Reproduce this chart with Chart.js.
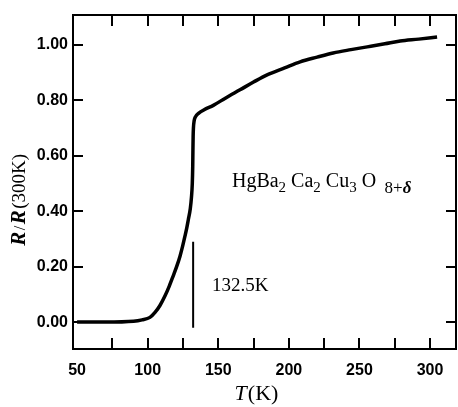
<!DOCTYPE html>
<html>
<head>
<meta charset="utf-8">
<script src="https://cdn.jsdelivr.net/npm/chart.js@4.4.1/dist/chart.umd.min.js"></script>
<style>
    html, body { margin: 0; padding: 0; background: #fff; }
</style>
</head>
<body>
<canvas id="rtChart" width="458" height="407"></canvas>
<script>
// R/R(300K) against T
const temps = [50, 70, 90, 96, 101.6, 105.2, 108.7, 112.3, 115.3, 118.1, 120.5, 122.9, 124.8, 126.4, 127.7, 128.8, 130.2, 131.0, 131.6, 131.9, 132.05, 132.2, 132.4, 132.9, 134.0, 136.0, 140, 146.5, 155, 165.4, 175, 184.6, 197, 208, 220, 231.4, 244, 255.5, 268, 278.9, 292, 305];
const ratio = [0.000, 0.000, 0.003, 0.008, 0.017, 0.035, 0.060, 0.095, 0.130, 0.167, 0.200, 0.238, 0.275, 0.310, 0.340, 0.370, 0.410, 0.450, 0.500, 0.560, 0.620, 0.670, 0.700, 0.726, 0.742, 0.753, 0.766, 0.782, 0.808, 0.838, 0.866, 0.892, 0.917, 0.939, 0.956, 0.971, 0.983, 0.993, 1.004, 1.014, 1.021, 1.029];

// Tc marker
const tcValue = 132.2;
const tcRange = [0.29, -0.02];
const tcLabel = "132.5K";

const xLabelValues = [50, 100, 150, 200, 250, 300];
const xTickMarks = [75, 100, 125, 150, 175, 200, 225, 250, 275, 300];
const yTickValues = [0, 0.2, 0.4, 0.6, 0.8, 1.0];

const _curve = temps.map((t, i) => ({ x: t, y: ratio[i] }));
const _marker = tcRange.map(v => ({ x: tcValue, y: v }));

// frame, inward ticks, titles and the text notes
const framePlugin = {
    id: 'frame',
    afterDraw(chart) {
        const ctx = chart.ctx;
        const a = chart.chartArea;
        const xs = chart.scales.x;
        const ys = chart.scales.y;
        ctx.save();
        ctx.strokeStyle = '#000';
        ctx.lineWidth = 2;
        ctx.strokeRect(a.left, a.top, a.right - a.left, a.bottom - a.top);

        ctx.beginPath();
        xTickMarks.forEach(v => {
            let px = Math.round(xs.getPixelForValue(v));
            ctx.moveTo(px, a.bottom);
            ctx.lineTo(px, a.bottom - 11);
            ctx.moveTo(px, a.top);
            ctx.lineTo(px, a.top + 11);
        });
        yTickValues.forEach(v => {
            let py = Math.round(ys.getPixelForValue(v));
            ctx.moveTo(a.left, py);
            ctx.lineTo(a.left + 10, py);
            ctx.moveTo(a.right, py);
            ctx.lineTo(a.right - 10, py);
        });
        ctx.stroke();

        ctx.fillStyle = '#000';
        ctx.textBaseline = 'alphabetic';

        // x title  T(K)
        let tFont = 'italic 22px "Liberation Serif"';
        let kFont = '22px "Liberation Serif"';
        ctx.font = tFont;
        let w1 = ctx.measureText('T').width;
        ctx.font = kFont;
        let w2 = ctx.measureText('(K)').width;
        let cx = 256;
        let bx = cx - (w1 + w2) / 2;
        ctx.font = tFont;
        ctx.fillText('T', bx, 400);
        ctx.font = kFont;
        ctx.fillText('(K)', bx + w1 + 1, 400);

        // y title  R/R(300K), rotated
        let parts = [
            { t: 'R', f: 'bold italic 21px "Liberation Serif"' },
            { t: '/', f: '16px "Liberation Serif"' },
            { t: 'R', f: 'bold italic 21px "Liberation Serif"' },
            { t: '(300K)', f: '19px "Liberation Serif"' }
        ];
        let total = 0;
        parts.forEach(p => { ctx.font = p.f; p.w = ctx.measureText(p.t).width + 1.5; total += p.w; });
        ctx.save();
        ctx.translate(25, 199);
        ctx.rotate(-Math.PI / 2);
        let px0 = -total / 2;
        parts.forEach(p => { ctx.font = p.f; ctx.fillText(p.t, px0, 0); px0 += p.w; });
        ctx.restore();

        // Tc note
        ctx.font = '19px "Liberation Serif"';
        ctx.fillText(tcLabel, xs.getPixelForValue(145.6), ys.getPixelForValue(0.137) + 7);

        // compound formula with subscripts
        let fx = xs.getPixelForValue(159.7);
        let fy = ys.getPixelForValue(0.514) + 7;
        let main = '20px "Liberation Serif"';
        let sub = '15px "Liberation Serif"';
        let pieces = [['HgBa', main, 0], ['2', sub, 5], [' Ca', main, 0], ['2', sub, 5], [' Cu', main, 0], ['3', sub, 5], [' O', main, 0], ['  8+', '17px "Liberation Serif"', 6], ['δ', 'bold italic 17px "Liberation Serif"', 6]];
        pieces.forEach(p => {
            ctx.font = p[1];
            ctx.fillText(p[0], fx, fy + p[2]);
            fx += ctx.measureText(p[0]).width;
        });
        ctx.restore();
    }
};

let rtChart = new Chart("rtChart", {
    type: 'line',
    data: {
        datasets: [{
            label: 'R/R(300K)',
            data: _curve,
            borderColor: '#000',
            borderWidth: 3.5,
            pointRadius: 0,
            cubicInterpolationMode: 'monotone',
            fill: false
        }, {
            label: 'Tc',
            data: _marker,
            borderColor: '#000',
            borderWidth: 2,
            pointRadius: 0,
            fill: false
        }]
    },
    options: {
        responsive: false,
        animation: false,
        devicePixelRatio: 1,
        layout: {
            padding: { left: 0, right: 2, top: 15, bottom: 0 }
        },
        plugins: {
            legend: { display: false },
            tooltip: { enabled: false }
        },
        scales: {
            x: {
                type: 'linear',
                min: 47.1,
                max: 318.4,
                grid: { display: false, drawTicks: false },
                border: { display: false },
                afterBuildTicks: (scale) => {
                    scale.ticks = xLabelValues.map(v => ({ value: v }));
                },
                afterFit: (scale) => { scale.height = 58; },
                ticks: {
                    color: '#000',
                    padding: 12,
                    maxRotation: 0,
                    font: { family: 'Liberation Sans', size: 16, weight: 'bold' }
                }
            },
            y: {
                type: 'linear',
                min: -0.097,
                max: 1.108,
                grid: { display: false, drawTicks: false },
                border: { display: false },
                afterBuildTicks: (scale) => {
                    scale.ticks = yTickValues.map(v => ({ value: v }));
                },
                afterFit: (scale) => { scale.width = 73; },
                ticks: {
                    color: '#000',
                    padding: 5,
                    font: { family: 'Liberation Sans', size: 16, weight: 'bold' },
                    callback: (v) => Number(v).toFixed(2)
                }
            }
        }
    },
    plugins: [framePlugin]
});
</script>
</body>
</html>
